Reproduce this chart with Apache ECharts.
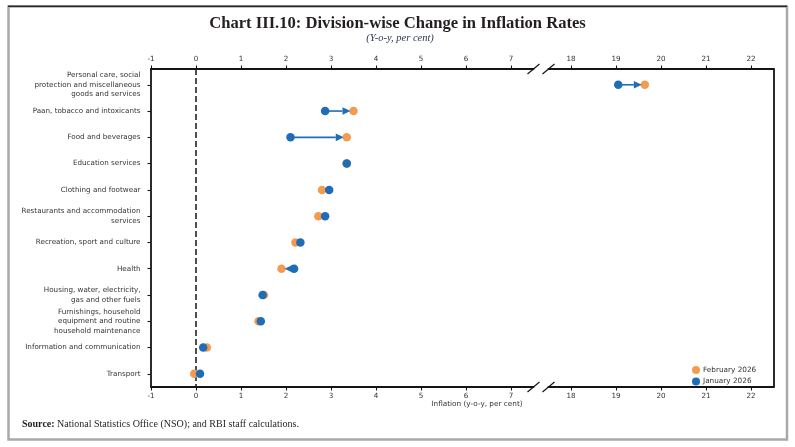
<!DOCTYPE html>
<html><head><meta charset="utf-8">
<script src="https://cdn.jsdelivr.net/npm/echarts@6/dist/echarts.min.js"></script>
<style>html,body{margin:0;padding:0;background:#fff}#c{width:795px;height:447px}</style>
</head><body><div id="c"></div>
<script>
// ---- data ----
const categories = [
  'Personal care, social\nprotection and miscellaneous\ngoods and services',
  'Paan, tobacco and intoxicants',
  'Food and beverages',
  'Education services',
  'Clothing and footwear',
  'Restaurants and accommodation\nservices',
  'Recreation, sport and culture',
  'Health',
  'Housing, water, electricity,\ngas and other fuels',
  'Furnishings, household\nequipment and routine\nhousehold maintenance',
  'Information and communication',
  'Transport'
];
const feb2026 = [19.64, 3.50, 3.35, 3.35, 2.80, 2.72, 2.21, 1.90, 1.51, 1.39, 0.24, -0.04];
const jan2026 = [19.05, 2.87, 2.10, 3.35, 2.96, 2.87, 2.32, 2.18, 1.48, 1.44, 0.16, 0.09];
const xTicksLeft = [-1, 0, 1, 2, 3, 4, 5, 6, 7];
const xTicksRight = [18, 19, 20, 21, 22];
const seriesNames = ['February 2026', 'January 2026'];
const leftRange = [-1, 7.5];
const rightRange = [17.5, 22.5];

// ---- styling ----
const ORANGE = '#f59b50';
const BLUE = '#1f6db6';
const AX = '#141414';
const FONT = 'DejaVu Sans';
const rowIdx = categories.map((c, i) => i);
const inRange = (v, r) => v >= r[0] && v <= r[1];

const chart = echarts.init(document.getElementById('c'), null, {renderer: 'canvas'});

function xAxisDef(grid, pos, range, ticks) {
  return {
    type: 'value', gridIndex: grid, position: pos, min: range[0], max: range[1],
    axisLine: {show: true, onZero: false, lineStyle: {color: AX, width: 1.8}},
    axisTick: {show: true, inside: false, length: 3.5, customValues: ticks, lineStyle: {color: AX, width: 1.1}},
    axisLabel: {show: true, customValues: ticks, fontSize: 7.2, color: '#333', fontFamily: FONT, margin: 6},
    splitLine: {show: false}
  };
}
function yAxisDef(grid, pos, labels) {
  return {
    type: 'value', gridIndex: grid, position: pos, inverse: true, min: -0.6, max: 11.5,
    axisLine: {show: true, onZero: false, lineStyle: {color: AX, width: 1.8}},
    axisTick: {show: labels, inside: false, length: 3.5, customValues: rowIdx, lineStyle: {color: AX, width: 1.1}},
    axisLabel: {show: labels, customValues: rowIdx, formatter: v => categories[Math.round(v)] || '',
      fontSize: 7.2, lineHeight: 9.6, color: '#333', fontFamily: FONT, margin: 10.5, align: 'right'},
    splitLine: {show: false}
  };
}

function arrowItem(params, api) {
  const i = api.value(1);
  const s = api.coord([api.value(0), i]);
  const e = api.coord([api.value(2), i]);
  const dx = e[0] - s[0];
  const len = Math.abs(dx);
  const shrink = 3;
  if (len <= shrink + 0.5) return null;
  const d = dx > 0 ? 1 : -1;
  const tipX = e[0] - d * shrink;
  const headLen = Math.min(8, len - shrink);
  const baseX = tipX - d * headLen;
  const y = s[1];
  return {
    type: 'group',
    children: [
      {type: 'line', shape: {x1: s[0], y1: y, x2: baseX, y2: y}, style: {stroke: BLUE, lineWidth: 1.6}},
      {type: 'polygon', shape: {points: [[tipX, y], [baseX, y - 3.8], [baseX, y + 3.8]]}, style: {fill: BLUE}}
    ]
  };
}

function arrowData(range) {
  return rowIdx.filter(i => inRange(jan2026[i], range) && inRange(feb2026[i], range))
    .map(i => [jan2026[i], i, feb2026[i]]);
}
function pts(vals, range) {
  return rowIdx.filter(i => inRange(vals[i], range)).map(i => [vals[i], i]);
}

const series = [];
[[0, 0, leftRange], [2, 1, rightRange]].forEach(([xi, yi, range], k) => {
  series.push({
    name: seriesNames[0], type: 'scatter', xAxisIndex: xi, yAxisIndex: yi,
    data: pts(feb2026, range), symbol: 'circle', symbolSize: 8.5, z: 3,
    itemStyle: {color: ORANGE, opacity: 1}, emphasis: {disabled: true}, silent: true,
    markLine: k === 0 ? {
      silent: true, symbol: ['none', 'none'], label: {show: false}, z: 1,
      lineStyle: {color: AX, width: 1.5, type: [6, 3]},
      data: [{xAxis: 0}]
    } : undefined
  });
  series.push({
    name: seriesNames[1], type: 'scatter', xAxisIndex: xi, yAxisIndex: yi,
    data: pts(jan2026, range), symbol: 'circle', symbolSize: 8.5, z: 4,
    itemStyle: {color: BLUE, opacity: 1}, emphasis: {disabled: true}, silent: true
  });
  series.push({
    type: 'custom', xAxisIndex: xi, yAxisIndex: yi, z: 5, silent: true,
    encode: {x: [0, 2], y: 1},
    data: arrowData(range), renderItem: arrowItem
  });
});

const option = {
  animation: false,
  backgroundColor: '#fff',
  grid: [
    {left: 151, top: 69, width: 382.5, height: 318},
    {left: 548.5, top: 69, width: 225, height: 318}
  ],
  xAxis: [
    xAxisDef(0, 'bottom', leftRange, xTicksLeft),
    xAxisDef(0, 'top', leftRange, xTicksLeft),
    xAxisDef(1, 'bottom', rightRange, xTicksRight),
    xAxisDef(1, 'top', rightRange, xTicksRight)
  ],
  yAxis: [yAxisDef(0, 'left', true), yAxisDef(1, 'right', false)],
  legend: {
    data: seriesNames, orient: 'vertical', left: 687, top: 361,
    itemWidth: 8, itemHeight: 8, itemGap: 3.5, icon: 'circle',
    textStyle: {fontSize: 7.3, color: '#333', fontFamily: FONT, padding: [0, 0, 0, -2]},
    selectedMode: false
  },
  series: series
};
chart.setOption(option);

// decorations: frame, titles, axis name, source, break marks
const xBreakL = chart.convertToPixel({xAxisIndex: 0}, leftRange[1]);
const xBreakR = chart.convertToPixel({xAxisIndex: 2}, rightRange[0]);
const yTop = chart.convertToPixel({yAxisIndex: 0}, -0.6);
const yBot = chart.convertToPixel({yAxisIndex: 0}, 11.5);
const slash = (x, y) => ({type: 'line', shape: {x1: x - 6, y1: y + 5, x2: x + 6, y2: y - 5},
  style: {stroke: AX, lineWidth: 1.2}, z: 10});

chart.setOption({
  graphic: [
    {type: 'rect', shape: {x: 8.5, y: 6.5, width: 778.5, height: 433}, style: {fill: 'none', stroke: '#a9a9a9', lineWidth: 2.5}, z: 0},
    {type: 'line', shape: {x1: 8, y1: 6.3, x2: 787, y2: 6.3}, style: {stroke: '#2a2a2a', lineWidth: 1.6}, z: 1},
    {type: 'text', x: 397.5, y: 23.5, style: {text: 'Chart III.10: Division-wise Change in Inflation Rates',
      font: 'bold 16.6px "Liberation Serif", serif', fill: '#231f20', align: 'center', verticalAlign: 'middle'}},
    {type: 'text', x: 400, y: 38, style: {text: '(Y-o-y, per cent)',
      font: 'italic 10.5px "Liberation Serif", serif', fill: '#2b3550', align: 'center', verticalAlign: 'middle'}},
    {type: 'text', x: 477, y: 404.5, style: {text: 'Inflation (y-o-y, per cent)',
      font: '7.3px "DejaVu Sans"', fill: '#333', align: 'center', verticalAlign: 'middle'}},
    {type: 'text', x: 22, y: 424, style: {
      text: '{b|Source:} National Statistics Office (NSO); and RBI staff calculations.',
      font: '10px "Liberation Serif", serif', fill: '#231f20', verticalAlign: 'middle',
      rich: {b: {fontWeight: 'bold', fontFamily: 'Liberation Serif', fontSize: 10, fill: '#231f20'}}}},
    slash(xBreakL, yTop), slash(xBreakR, yTop), slash(xBreakL, yBot), slash(xBreakR, yBot)
  ]
});
</script>
</body></html>
